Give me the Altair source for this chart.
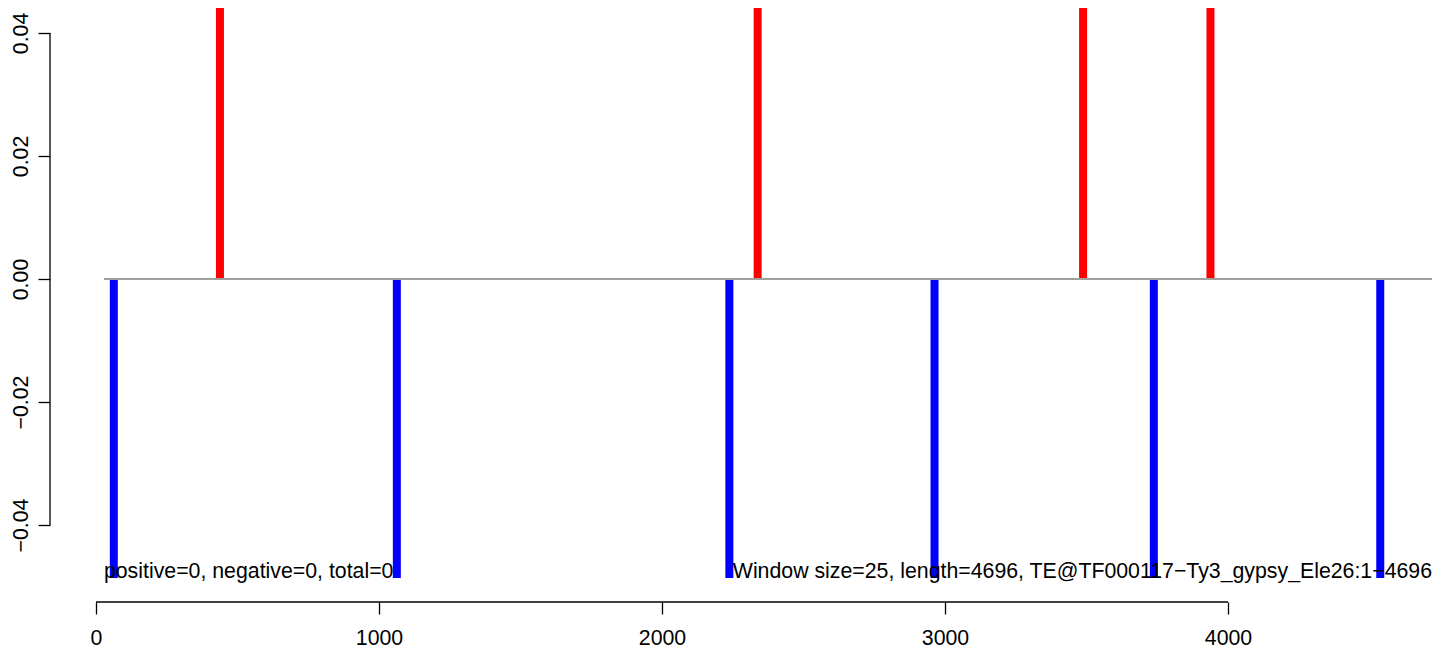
import altair as alt
import pandas as pd

# ---- data ----
blue_pos = [63, 1063, 2238, 2963, 3738, 4538]
red_pos = [438, 2338, 3488, 3938]
blue_val = -0.0486
red_val = 0.0486
x_ticks = [0, 1000, 2000, 3000, 4000]
y_ticks = [-0.04, -0.02, 0.0, 0.02, 0.04]
zero_line = [28, 4721]
left_text = "positive=0, negative=0, total=0"
right_text = "Window size=25, length=4696, TE@TF000117\u2212Ty3_gypsy_Ele26:1\u22124696"

# ---- layout ----
W, H = 1386, 594
X_DOM = [-162.54, 4734.98]
Y_DOM = [-0.05252, 0.044065]
FONT = "Liberation Sans"
FS = 21.3

bars = pd.DataFrame({
    "pos": blue_pos + red_pos,
    "val": [blue_val] * len(blue_pos) + [red_val] * len(red_pos),
    "zero": [0.0] * (len(blue_pos) + len(red_pos)),
    "col": ["#0000ff"] * len(blue_pos) + ["#ff0000"] * len(red_pos),
})

xs = alt.Scale(domain=X_DOM, nice=False, zero=False)
ys = alt.Scale(domain=Y_DOM, nice=False, zero=False)

x_axis = alt.Axis(values=x_ticks, format="d", title=None, domain=False, grid=False,
                  tickSize=12, tickColor="black", tickWidth=1.3,
                  labelFont=FONT, labelFontSize=FS, labelColor="black",
                  labelBaseline="alphabetic", labelAlign="center", labelPadding=30,
                  labelFlush=False, labelOverlap=False)
y_axis = alt.Axis(values=y_ticks, format=".2f", title=None, domain=False, grid=False,
                  tickSize=12, tickColor="black", tickWidth=1.3,
                  labelFont=FONT, labelFontSize=FS, labelColor="black",
                  labelAngle=270, labelAlign="center", labelBaseline="alphabetic",
                  labelPadding=11, labelFlush=False, labelOverlap=False)

bar_layer = alt.Chart(bars).mark_rule(strokeWidth=8, strokeCap="butt", clip=True).encode(
    x=alt.X("pos:Q", scale=xs, axis=x_axis),
    y=alt.Y("val:Q", scale=ys, axis=y_axis),
    y2="zero:Q",
    color=alt.Color("col:N", scale=None),
)

zl = pd.DataFrame({"x": [zero_line[0]], "x2": [zero_line[1]], "y": [0.0]})
zero_layer = alt.Chart(zl).mark_rule(color="#a0a0a0", strokeWidth=2).encode(
    x=alt.X("x:Q", scale=xs), x2="x2:Q", y=alt.Y("y:Q", scale=ys)
)

xl = pd.DataFrame({"a": [x_ticks[0]], "b": [x_ticks[-1]]})
xline = alt.Chart(xl).mark_rule(color="black", strokeWidth=1.3).encode(
    x=alt.X("a:Q", scale=xs), x2="b:Q", y=alt.value(H)
)
yl = pd.DataFrame({"a": [y_ticks[0]], "b": [y_ticks[-1]]})
yline = alt.Chart(yl).mark_rule(color="black", strokeWidth=1.3).encode(
    y=alt.Y("a:Q", scale=ys), y2="b:Q", x=alt.value(0)
)

lt = pd.DataFrame({"x": [zero_line[0]], "y": [blue_val], "t": [left_text]})
rt = pd.DataFrame({"x": [zero_line[1]], "y": [blue_val], "t": [right_text]})
ltext = alt.Chart(lt).mark_text(align="left", baseline="alphabetic", font=FONT,
                                fontSize=FS, color="black").encode(
    x=alt.X("x:Q", scale=xs), y=alt.Y("y:Q", scale=ys), text="t:N")
rtext = alt.Chart(rt).mark_text(align="right", baseline="alphabetic", font=FONT,
                                fontSize=FS, color="black").encode(
    x=alt.X("x:Q", scale=xs), y=alt.Y("y:Q", scale=ys), text="t:N")

chart = alt.layer(bar_layer, zero_layer, xline, yline, ltext, rtext).properties(
    width=W, height=H,
    padding={"left": 42, "top": 0, "right": 0, "bottom": 48},
    autosize=alt.AutoSizeParams(type="none"),
).configure(background="white").configure_view(strokeWidth=0, stroke="transparent")

chart.save("out.html", embed_options={"renderer": "svg", "actions": False})
